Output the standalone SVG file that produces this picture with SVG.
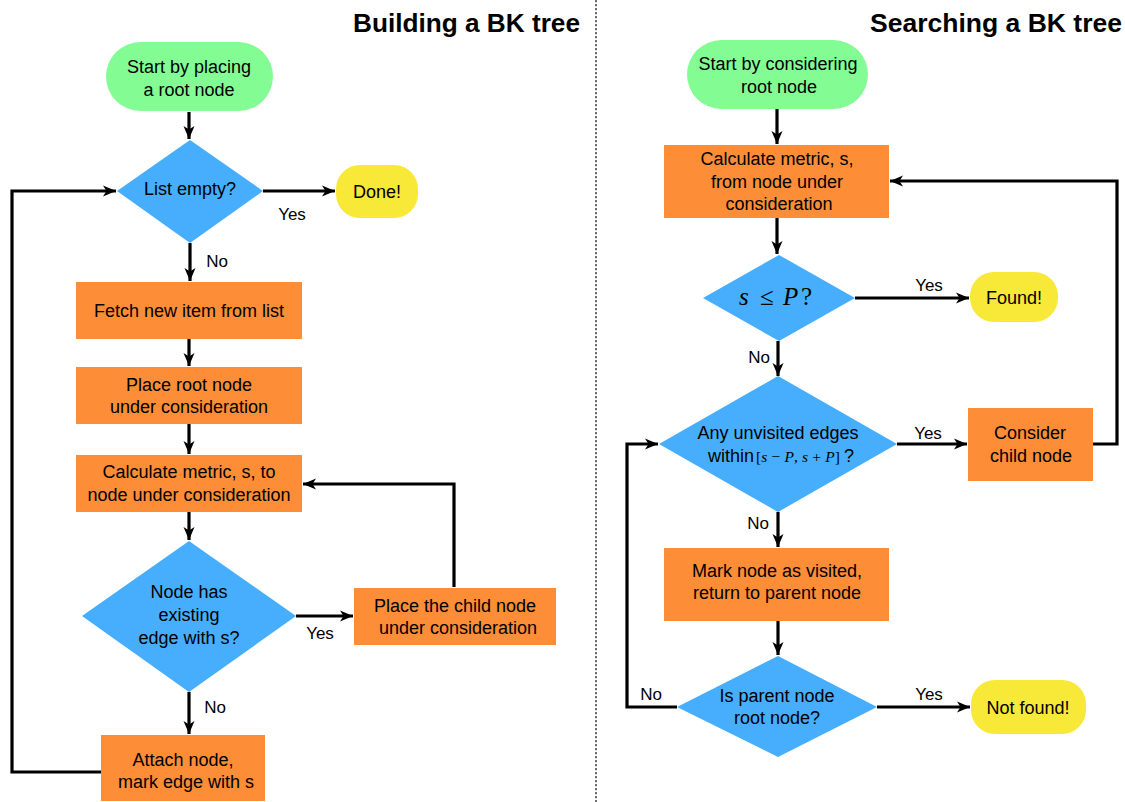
<svg xmlns="http://www.w3.org/2000/svg" width="1125" height="802" viewBox="0 0 1125 802">
<defs>
<marker id="ah" markerUnits="userSpaceOnUse" markerWidth="14" markerHeight="12" refX="13" refY="6" orient="auto">
<path d="M0,0.5 L13,6 L0,11.5 L3.5,6 z" fill="#000"/>
</marker>
<style>
.t{font-family:"Liberation Sans",Arial,sans-serif;font-size:18px;fill:#000;text-anchor:middle}
.l{font-family:"Liberation Sans",Arial,sans-serif;font-size:17px;fill:#000;text-anchor:middle}
.h{font-family:"Liberation Sans",Arial,sans-serif;font-size:25px;font-weight:bold;fill:#000}
.m{font-family:"Liberation Serif","Times New Roman",serif;fill:#000}
.start{fill:#84FC94}
.dec{fill:#46AEFD}
.proc{fill:#FD8D36}
.end{fill:#F8E838}
.c{fill:none;stroke:#000;stroke-width:3.2}
.a{marker-end:url(#ah)}
</style>
</defs>
<rect width="1125" height="802" fill="#fff"/>
<text class="h" x="353" y="32" textLength="227" lengthAdjust="spacingAndGlyphs">Building a BK tree</text>
<text class="h" x="870" y="32" textLength="252" lengthAdjust="spacingAndGlyphs">Searching a BK tree</text>
<line x1="596" y1="0" x2="596" y2="802" stroke="#222" stroke-width="1.3" stroke-dasharray="2.2,1.8"/>

<g id="connectors">
<path class="c a" d="M189,112 V139"/>
<path class="c a" d="M263,191 H335"/>
<path class="c a" d="M190,243 V281"/>
<path class="c a" d="M189,339 V366"/>
<path class="c a" d="M189,424 V454"/>
<path class="c a" d="M189,512 V540"/>
<path class="c a" d="M296,616 H353"/>
<path class="c a" d="M454,587 V484 H303"/>
<path class="c a" d="M189,692 V734"/>
<path class="c a" d="M101,772 H12 V191 H116"/>

<path class="c a" d="M777,109 V144"/>
<path class="c a" d="M777,218 V254"/>
<path class="c a" d="M855,298 H969"/>
<path class="c a" d="M778,341 V376"/>
<path class="c a" d="M897,444 H967"/>
<path class="c a" d="M1093,444 H1117 V181 H890"/>
<path class="c a" d="M778,512 V547"/>
<path class="c a" d="M778,621 V655"/>
<path class="c a" d="M877,707 H970"/>
<path class="c a" d="M677,707 H627 V444 H658"/>
</g>

<g id="labels">
<text class="l" x="292" y="220">Yes</text>
<text class="l" x="217" y="267">No</text>
<text class="l" x="320" y="639">Yes</text>
<text class="l" x="215" y="713">No</text>
<text class="l" x="929" y="291">Yes</text>
<text class="l" x="759" y="363">No</text>
<text class="l" x="928" y="439">Yes</text>
<text class="l" x="758" y="529">No</text>
<text class="l" x="651" y="700">No</text>
<text class="l" x="929" y="700">Yes</text>
</g>

<g id="b-start">
<rect class="start" x="106" y="42" width="167" height="69" rx="34.5"/>
<text class="t" x="189" y="73">Start by placing</text>
<text class="t" x="189" y="96">a root node</text>
</g>
<g id="b-listempty">
<polygon class="dec" points="190,140 263,191 190,243 117,191"/>
<text class="t" x="190" y="195">List empty?</text>
</g>
<g id="b-done">
<rect class="end" x="336" y="165" width="82" height="53" rx="24"/>
<text class="t" x="377" y="198">Done!</text>
</g>
<g id="b-fetch">
<rect class="proc" x="76" y="282" width="226" height="57"/>
<text class="t" x="189" y="317">Fetch new item from list</text>
</g>
<g id="b-placeroot">
<rect class="proc" x="76" y="367" width="226" height="57"/>
<text class="t" x="189" y="391">Place root node</text>
<text class="t" x="189" y="413">under consideration</text>
</g>
<g id="b-calc">
<rect class="proc" x="76" y="455" width="226" height="57"/>
<text class="t" x="189" y="478">Calculate metric, s, to</text>
<text class="t" x="189" y="501">node under consideration</text>
</g>
<g id="b-hasedge">
<polygon class="dec" points="189,541 296,616 189,692 82,616"/>
<text class="t" x="189" y="598">Node has</text>
<text class="t" x="189" y="621">existing</text>
<text class="t" x="189" y="644">edge with s?</text>
</g>
<g id="b-placechild">
<rect class="proc" x="354" y="588" width="202" height="57"/>
<text class="t" x="455" y="612">Place the child node</text>
<text class="t" x="458" y="634">under consideration</text>
</g>
<g id="b-attach">
<rect class="proc" x="101" y="735" width="164" height="66"/>
<text class="t" x="183" y="766">Attach node,</text>
<text class="t" x="186" y="788">mark edge with s</text>
</g>

<g id="s-start">
<rect class="start" x="687" y="40" width="181" height="69" rx="34.5"/>
<text class="t" x="778" y="70">Start by considering</text>
<text class="t" x="779" y="93">root node</text>
</g>
<g id="s-calc">
<rect class="proc" x="664" y="145" width="225" height="73"/>
<text class="t" x="777" y="165">Calculate metric, s,</text>
<text class="t" x="777" y="188">from node under</text>
<text class="t" x="779" y="210">consideration</text>
</g>
<g id="s-sleP">
<polygon class="dec" points="779,255 855,298 779,341 703,298"/>
<text class="m" y="305" font-size="25"><tspan x="739" font-style="italic">s</tspan><tspan x="760">≤</tspan><tspan x="783" font-style="italic">P</tspan><tspan x="801">?</tspan></text>
</g>
<g id="s-found">
<rect class="end" x="970" y="272" width="88" height="50" rx="24"/>
<text class="t" x="1014" y="304">Found!</text>
</g>
<g id="s-unvisited">
<polygon class="dec" points="778,376 897,444 778,512 659,444"/>
<text class="t" x="778" y="439">Any unvisited edges</text>
<text class="t" x="731" y="462">within</text>
<text class="m" x="756" y="462" font-size="15.5" textLength="84" lengthAdjust="spacing">[<tspan font-style="italic">s</tspan> − <tspan font-style="italic">P</tspan>, <tspan font-style="italic">s</tspan> + <tspan font-style="italic">P</tspan>]</text>
<text class="t" x="849" y="462">?</text>
</g>
<g id="s-consider">
<rect class="proc" x="968" y="408" width="125" height="73"/>
<text class="t" x="1030" y="439">Consider</text>
<text class="t" x="1031" y="462">child node</text>
</g>
<g id="s-mark">
<rect class="proc" x="664" y="548" width="225" height="73"/>
<text class="t" x="777" y="577">Mark node as visited,</text>
<text class="t" x="777" y="599">return to parent node</text>
</g>
<g id="s-isroot">
<polygon class="dec" points="778,656 877,707 778,757 677,707"/>
<text class="t" x="777" y="702">Is parent node</text>
<text class="t" x="777" y="724">root node?</text>
</g>
<g id="s-notfound">
<rect class="end" x="971" y="680" width="115" height="54" rx="24"/>
<text class="t" x="1028" y="714">Not found!</text>
</g>
</svg>
